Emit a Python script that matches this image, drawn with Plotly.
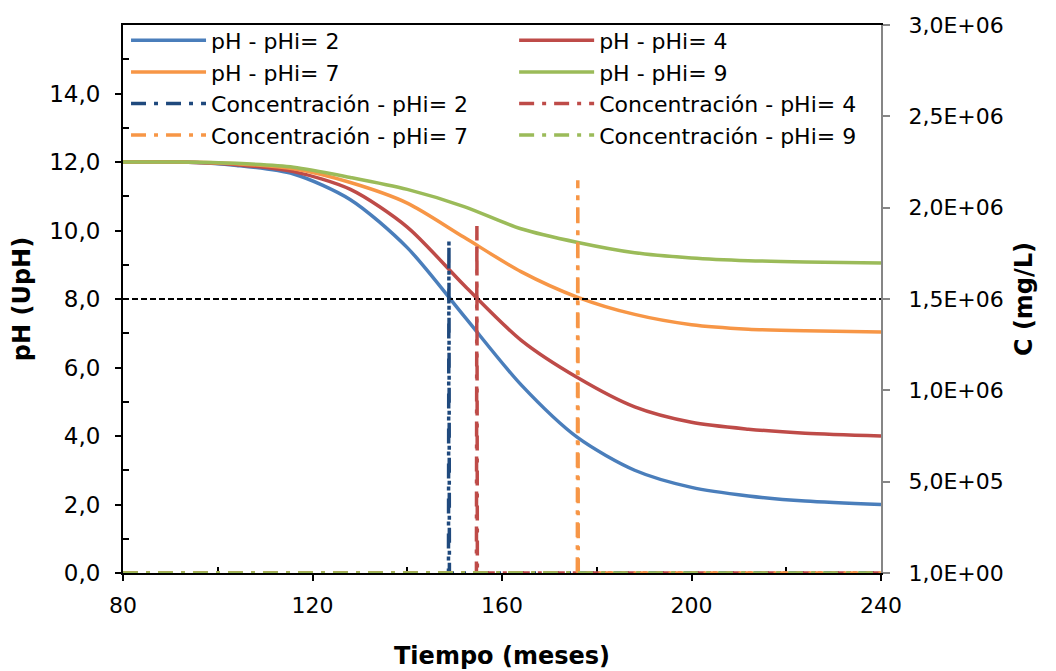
import plotly.graph_objects as go

# time (months)
tiempo = [80, 92, 104, 116, 128, 140, 152, 164, 176, 188, 200, 212, 224, 240]

# pH curves, one per initial pH
ph_2 = [12.0, 12.0, 11.9, 11.65, 10.9, 9.5, 7.5, 5.5, 3.95, 3.0, 2.5, 2.25, 2.1, 2.0]
ph_4 = [12.0, 12.0, 11.92, 11.72, 11.2, 10.1, 8.4, 6.8, 5.7, 4.85, 4.4, 4.2, 4.08, 4.0]
ph_7 = [12.0, 12.0, 11.95, 11.8, 11.4, 10.8, 9.8, 8.8, 8.05, 7.55, 7.25, 7.12, 7.07, 7.04]
ph_9 = [12.0, 12.0, 11.96, 11.85, 11.55, 11.2, 10.7, 10.05, 9.65, 9.35, 9.2, 9.12, 9.08, 9.05]

# concentration series (mg/L): zero except one peak
t_c2 = [80, 148.7, 148.8, 148.9, 240]
c_2 = [0, 0, 1.82e6, 0, 0]
t_c4 = [80, 154.6, 154.7, 154.8, 240]
c_4 = [0, 0, 1.90e6, 0, 0]
t_c7 = [80, 175.9, 176.0, 176.1, 240]
c_7 = [0, 0, 2.15e6, 0, 0]
t_c9 = [80, 240]
c_9 = [0, 0]

# reference line pH = 8
ref_t = [80, 240]
ref_ph = [8, 8]

y_ticks = [0, 2, 4, 6, 8, 10, 12, 14]
y_labels = ['0,0', '2,0', '4,0', '6,0', '8,0', '10,0', '12,0', '14,0']
y2_ticks = [1, 5e5, 1e6, 1.5e6, 2e6, 2.5e6, 3e6]
y2_labels = ['1,0E+00', '5,0E+05', '1,0E+06', '1,5E+06', '2,0E+06', '2,5E+06', '3,0E+06']
x_ticks = [80, 120, 160, 200, 240]

BLUE = '#4A7EBB'
RED = '#BE4B48'
ORANGE = '#F79646'
GREEN = '#9BBB59'
NAVY = '#1F497D'

FONT = 'DejaVu Sans, sans-serif'
DASH = '15px,8px,4px,8px'

fig = go.Figure()

# left legend column gets pHi 2 and 7, right column pHi 4 and 9
for name, ys, col, leg in [('pH - pHi= 2', ph_2, BLUE, 'legend'),
                           ('pH - pHi= 4', ph_4, RED, 'legend2'),
                           ('pH - pHi= 7', ph_7, ORANGE, 'legend'),
                           ('pH - pHi= 9', ph_9, GREEN, 'legend2')]:
    fig.add_trace(go.Scatter(x=tiempo, y=ys, name=name, mode='lines', legend=leg,
                             line=dict(color=col, width=3.5, shape='spline', smoothing=0.8)))

fig.add_trace(go.Scatter(x=ref_t, y=ref_ph, mode='lines', showlegend=False,
                         line=dict(color='black', width=1.8, dash='6px,3px')))

for name, xs, ys, col, leg in [('Concentración - pHi= 2', t_c2, c_2, NAVY, 'legend'),
                               ('Concentración - pHi= 4', t_c4, c_4, RED, 'legend2'),
                               ('Concentración - pHi= 7', t_c7, c_7, ORANGE, 'legend'),
                               ('Concentración - pHi= 9', t_c9, c_9, GREEN, 'legend2')]:
    fig.add_trace(go.Scatter(x=xs, y=ys, name=name, mode='lines', yaxis='y2', legend=leg,
                             line=dict(color=col, width=3.5, dash=DASH)))

legend_style = dict(orientation='v', y=1.01, xanchor='left', yanchor='top',
                    bgcolor='rgba(255,255,255,0)', itemwidth=75,
                    font=dict(size=22), traceorder='normal')

# page body has an 8px margin, so the figure is a bit smaller than the window
fig.update_layout(
    width=1048, height=663,
    margin=dict(l=115, r=175, t=12, b=98),
    paper_bgcolor='white', plot_bgcolor='white',
    font=dict(family=FONT, size=22, color='black'),
    xaxis=dict(range=[80, 240], tickvals=x_ticks, ticks='outside', ticklen=6,
               tickwidth=1.5, tickcolor='black', showline=True, linecolor='black',
               linewidth=2, mirror=True, showgrid=False, zeroline=False,
               automargin=False,
               layer='below traces', ticklabelstandoff=6, tickfont=dict(size=22),
               minor=dict(ticks='inside', tickvals=[100, 140, 180, 220], ticklen=6,
                          tickwidth=1.5, tickcolor='black'),
               title=dict(text='<b>Tiempo (meses)</b>', font=dict(size=24), standoff=30)),
    xaxis2=dict(range=[80, 240], overlaying='x', anchor='y', side='bottom',
                tickvals=x_ticks, ticks='inside', ticklen=6, tickwidth=1.5,
                tickcolor='black', showticklabels=False, showline=False,
                showgrid=False, zeroline=False, automargin=False),
    yaxis=dict(range=[0, 16], tickvals=y_ticks, ticktext=y_labels, ticks='outside',
               ticklen=6, tickwidth=1.5, tickcolor='black', showline=True,
               linecolor='black', linewidth=2, showgrid=False, zeroline=False,
               automargin=False,
               layer='below traces', ticklabelstandoff=10, tickfont=dict(size=23),
               minor=dict(ticks='inside', tickvals=[1, 3, 5, 7, 9, 11, 13, 15],
                          ticklen=6, tickwidth=1.5, tickcolor='black'),
               title=dict(text='<b>pH (UpH)</b>', font=dict(size=24), standoff=12)),
    yaxis3=dict(range=[0, 16], overlaying='y', anchor='x', side='left',
                tickvals=y_ticks, ticks='inside', ticklen=6, tickwidth=1.5,
                tickcolor='black', showticklabels=False, showline=False,
                showgrid=False, zeroline=False, automargin=False),
    yaxis2=dict(range=[1, 3e6], overlaying='y', side='right', anchor='x',
                tickvals=y2_ticks, ticktext=y2_labels, ticks='outside', ticklen=7,
                tickwidth=1.5, tickcolor='#868686', showline=True, linecolor='#868686',
                linewidth=2, showgrid=False, zeroline=False, ticklabelstandoff=14,
                automargin=False, tickfont=dict(size=22),
                title=dict(text='<b>C (mg/L)</b>', font=dict(size=24), standoff=12)),
    legend=dict(x=0.004, **legend_style),
    legend2=dict(x=0.516, **legend_style),
    showlegend=True,
)

fig.write_html('out.html')
